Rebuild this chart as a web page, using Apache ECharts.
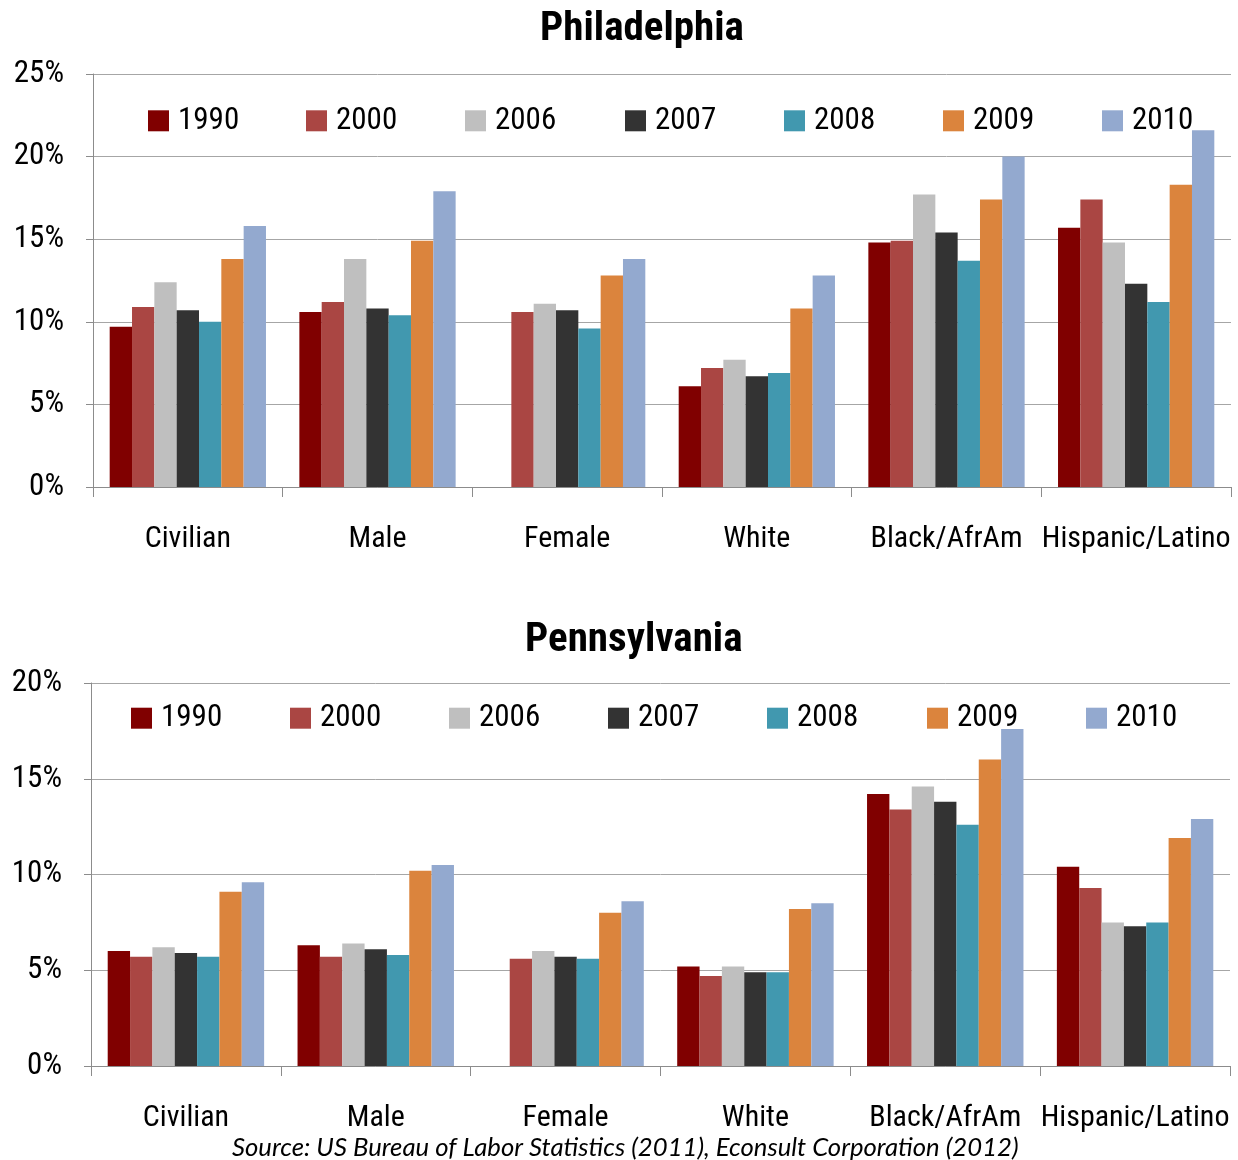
<!DOCTYPE html>
<html>
<head>
<meta charset="utf-8">
<script src="https://cdn.jsdelivr.net/npm/echarts@6/dist/echarts.min.js"></script>
<style>
html,body{margin:0;padding:0;background:#fff;}
#chart{width:1238px;height:1160px;}
</style>
</head>
<body>
<div id="chart"></div>
<script>
const categories = ['Civilian', 'Male', 'Female', 'White', 'Black/AfrAm', 'Hispanic/Latino'];
const years = ['1990', '2000', '2006', '2007', '2008', '2009', '2010'];
const colors = ['#800000', '#AA4643', '#BFBFBF', '#333333', '#4198AF', '#DB843D', '#93A9CF'];

// Philadelphia unemployment rate (%), one array per year, in category order
const phl1990 = [9.7, 10.6, null, 6.1, 14.8, 15.7];
const phl2000 = [10.9, 11.2, 10.6, 7.2, 14.9, 17.4];
const phl2006 = [12.4, 13.8, 11.1, 7.7, 17.7, 14.8];
const phl2007 = [10.7, 10.8, 10.7, 6.7, 15.4, 12.3];
const phl2008 = [10.0, 10.4, 9.6, 6.9, 13.7, 11.2];
const phl2009 = [13.8, 14.9, 12.8, 10.8, 17.4, 18.3];
const phl2010 = [15.8, 17.9, 13.8, 12.8, 20.0, 21.6];

// Pennsylvania unemployment rate (%)
const pa1990 = [6.0, 6.3, null, 5.2, 14.2, 10.4];
const pa2000 = [5.7, 5.7, 5.6, 4.7, 13.4, 9.3];
const pa2006 = [6.2, 6.4, 6.0, 5.2, 14.6, 7.5];
const pa2007 = [5.9, 6.1, 5.7, 4.9, 13.8, 7.3];
const pa2008 = [5.7, 5.8, 5.6, 4.9, 12.6, 7.5];
const pa2009 = [9.1, 10.2, 8.0, 8.2, 16.0, 11.9];
const pa2010 = [9.6, 10.5, 8.6, 8.5, 17.6, 12.9];

const phlTicks = [0, 5, 10, 15, 20, 25];
const paTicks = [0, 5, 10, 15, 20];

const phlSeries = [phl1990, phl2000, phl2006, phl2007, phl2008, phl2009, phl2010];
const paSeries = [pa1990, pa2000, pa2006, pa2007, pa2008, pa2009, pa2010];

const FONT = '"Roboto Condensed", "Liberation Sans", sans-serif';
const axisGray = '#8c8c8c';
const gridGray = '#a6a6a6';

const chart = echarts.init(document.getElementById('chart'), null, {renderer: 'canvas'});

const topLegendX = [148, 306, 465, 625, 784, 943, 1102];
const botLegendX = [131, 290, 449, 608, 767, 927, 1086];

function legendFor(xs, top) {
  return years.map((y, i) => ({
    data: [y],
    left: xs[i],
    top: top,
    padding: 0,
    icon: 'rect',
    itemWidth: 21,
    itemHeight: 21,
    itemGap: 0,
    textStyle: {fontFamily: FONT, fontSize: 31, color: '#000', padding: [0, 0, 0, 4]},
    selectedMode: false
  }));
}

function xAxisFor(gridIndex) {
  return {
    type: 'category',
    gridIndex: gridIndex,
    data: categories,
    axisLine: {show: true, lineStyle: {color: axisGray, width: 1}},
    axisTick: {show: true, length: 10, lineStyle: {color: axisGray}},
    axisLabel: {fontFamily: FONT, fontSize: 30, color: '#000', margin: 37, interval: 0}
  };
}

function yAxisFor(gridIndex, ticks) {
  return {
    type: 'value',
    gridIndex: gridIndex,
    min: ticks[0],
    max: ticks[ticks.length - 1],
    interval: ticks[1] - ticks[0],
    axisLine: {show: true, lineStyle: {color: axisGray, width: 1}},
    axisTick: {show: true, length: 7, lineStyle: {color: axisGray}},
    axisLabel: {fontFamily: FONT, fontSize: 31, color: '#000', margin: 29, padding: [4, 0, 0, 0], formatter: '{value}%'},
    splitLine: {show: true, lineStyle: {color: gridGray, width: 1}}
  };
}

const series = [];
years.forEach((y, i) => {
  series.push({
    name: y, type: 'bar', xAxisIndex: 0, yAxisIndex: 0,
    data: phlSeries[i],
    itemStyle: {color: colors[i]},
    barGap: '0%', barCategoryGap: '17.6%'
  });
});
years.forEach((y, i) => {
  series.push({
    name: y, type: 'bar', xAxisIndex: 1, yAxisIndex: 1,
    data: paSeries[i],
    itemStyle: {color: colors[i]},
    barGap: '0%', barCategoryGap: '17.6%'
  });
});

const option = {
  animation: false,
  color: colors,
  title: [
    {text: 'Philadelphia', left: 540, top: 9, padding: 0,
     textStyle: {fontFamily: FONT, fontSize: 41, fontWeight: 'bold', color: '#000'}},
    {text: 'Pennsylvania', left: 525, top: 620, padding: 0,
     textStyle: {fontFamily: FONT, fontSize: 41, fontWeight: 'bold', color: '#000'}},
    {text: 'Source: US Bureau of Labor Statistics (2011), Econsult Corporation (2012)',
     left: 232, top: 1135, padding: 0,
     textStyle: {fontFamily: 'Lato, "Open Sans", sans-serif', fontStyle: 'italic', fontWeight: 'normal', fontSize: 25.7, color: '#000'}}
  ],
  legend: legendFor(topLegendX, 105.3).concat(legendFor(botLegendX, 702.7)),
  grid: [
    {left: 93, right: 7, top: 74, bottom: 673, containLabel: false},
    {left: 91, right: 8, top: 683, bottom: 94, containLabel: false}
  ],
  xAxis: [xAxisFor(0), xAxisFor(1)],
  yAxis: [yAxisFor(0, phlTicks), yAxisFor(1, paTicks)],
  series: series
};

chart.setOption(option);
</script>
</body>
</html>
